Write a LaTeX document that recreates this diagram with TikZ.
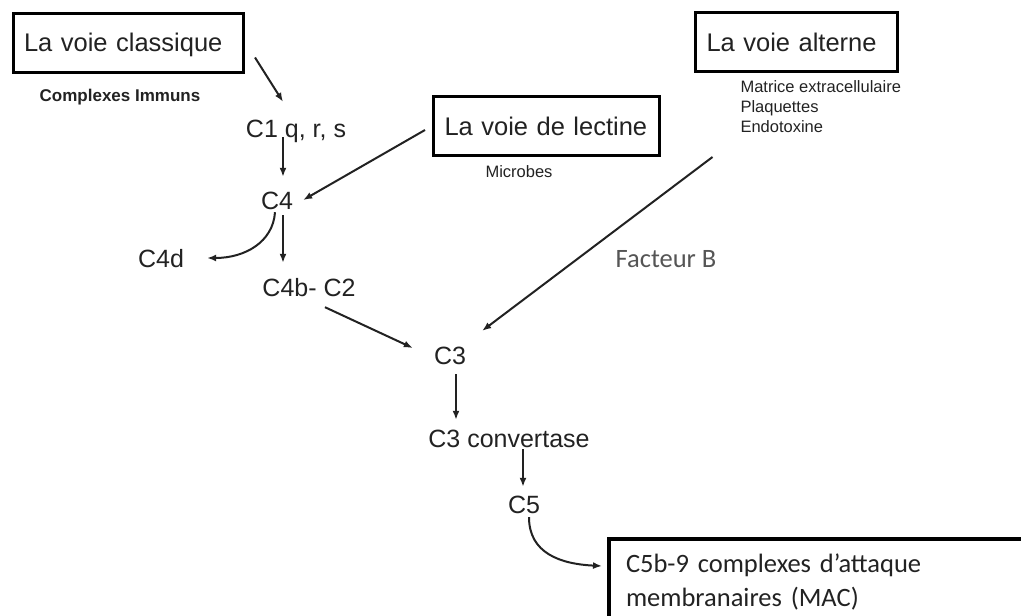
\documentclass[tikz,border=0pt]{standalone}
\usepackage{fontspec}
\setmainfont{Liberation Sans}
\newfontfamily\calibri{Carlito}
\usetikzlibrary{arrows.meta,calc}
\definecolor{texte}{HTML}{222222}
\definecolor{gris}{HTML}{555555}

\begin{document}
\begin{tikzpicture}[x=1pt, y=-1pt,
    voie/.style={rectangle, draw, line width=3pt, text=texte, font=\fontsize{25.5}{30}\selectfont, align=left, inner xsep=11pt, inner ysep=0pt, minimum height=59pt, text height=20pt, text depth=2pt, anchor=north west},
    cible/.style={rectangle, draw, line width=4pt, text=texte, font=\calibri\fontsize{26.5}{34}\selectfont, align=left, inner xsep=17pt, minimum height=86pt, anchor=north west},
    comp/.style={text=texte, font=\fontsize{25}{30}\selectfont, inner sep=0pt, text height=18pt, text depth=5pt},
    note/.style={text=texte, font=\fontsize{16.5}{20}\selectfont, align=left},
    fleche/.style={->, >={Latex[length=9pt,width=7pt]}, line width=2pt, draw=texte}
]
    \useasboundingbox (0,0) rectangle (1021,616);
    \clip (0,0) rectangle (1021,616);

    % Les trois voies
    \node[voie, text width=208.5pt] (classique) at (11.5,11.5) {La voie classique};
    \node[voie, text width=204pt] (lectine) at (432,95) {La voie de lectine};
    \node[voie, text width=180pt] (alterne) at (694,11) {La voie alterne};

    \node[note, font={\fontsize{17}{20}\selectfont\bfseries}] (immuns) at (120,97.5) {Complexes Immuns};
    \node[note] (microbes) at (519,172) {Microbes};
    \node[note, anchor=west] (matrice) at (737,107) {Matrice extracellulaire\\Plaquettes\\Endotoxine};
    \node[text=gris, font=\calibri\fontsize{26.5}{30}\selectfont] (facteur) at (666,259) {Facteur B};

    % Composants
    \node[comp] (c1) at (296,130.5) {C1 q, r, s};
    \node[comp] (c4) at (277,202.5) {C4};
    \node[comp] (c4d) at (161,260.5) {C4d};
    \node[comp] (c4b) at (309,289.5) {C4b- C2};
    \node[comp] (c3) at (450,357.5) {C3};
    \node[comp] (conv) at (509,440.5) {C3 convertase};
    \node[comp] (c5) at (524,506.5) {C5};
    \node[cible, text width=450pt] (mac) at (607,537) {C5b-9 complexes d’attaque\\membranaires (MAC)};

    % Cascade
    \draw[fleche] ($(classique.east)+(10,15)$) -- ($(c1.north)+(-13,-17)$);
    \draw[fleche] ($(c1.south)+(-13,-5)$) -- ($(c4.north)+(6,-14)$);
    \draw[fleche] ($(lectine.west)+(-7,4)$) -- ($(c4.east)+(10,-2.5)$);
    \draw[fleche] ($(c4.south)+(-2,-2)$) .. controls (273,242) and (245,258) .. ($(c4d.east)+(23,-2.5)$);
    \draw[fleche] ($(c4.south)+(6,1)$) -- ($(c4b.north)+(-26,-15)$);
    \draw[fleche] ($(c4b.south)+(16,6)$) -- ($(c3.west)+(-21,-9.5)$);
    \draw[fleche] ($(alterne.south)+(-84,84)$) -- ($(c3.north east)+(16,-15)$);
    \draw[fleche] ($(c3.south)+(6,5)$) -- ($(conv.north)+(-53,-9)$);
    \draw[fleche] ($(conv.south)+(14,-3)$) -- ($(c5.north)+(-1,-8)$);
    \draw[fleche] ($(c5.south)+(5,-1)$) .. controls (529,553) and (560,564) .. ($(mac.west)+(-5,-16)$);

\end{tikzpicture}
\end{document}
